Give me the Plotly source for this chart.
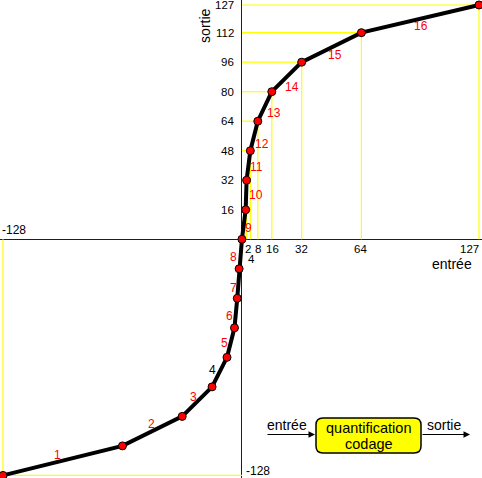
import plotly.graph_objects as go

# ---- data ----
neg_x = [-128, -64, -32, -16, -8, -4, -2.5, -1.5, 0]
neg_y = [-128, -112, -96, -80, -64, -48, -32, -16, 0]
pos_x = [2, 2.5, 4.5, 8.5, 16, 32, 64, 127]
pos_y = [16, 32, 48, 64, 80, 96, 112, 127]
seg_labels = [str(i) for i in range(1, 17)]
ytick_vals = [16, 32, 48, 64, 80, 96, 112, 127]
xtick_vals = [2, 8, 16, 32, 64, 127]
xtick_low = [4]

W, H = 482, 478
FONT = "Liberation Sans, Arial, sans-serif"
RED = "#ff0000"

curve_x = neg_x + pos_x
curve_y = neg_y + pos_y

# yellow drop lines
yx, yy = [], []
for x, y in zip(pos_x, pos_y):
    yx += [0, x, None, x, x, None]
    yy += [y, y, None, 0, y, None]
yx += [0, neg_x[0], None, neg_x[0], neg_x[0], None]
yy += [neg_y[0], neg_y[0], None, 0, neg_y[0], None]

fig = go.Figure()
fig.add_trace(go.Scatter(x=yx, y=yy, mode="lines",
                         line=dict(color="#ffff00", width=1.2),
                         hoverinfo="skip", showlegend=False))
fig.add_trace(go.Scatter(x=curve_x, y=curve_y, mode="lines+markers",
                         line=dict(color="black", width=4),
                         marker=dict(size=8, color=RED,
                                     line=dict(color="black", width=1)),
                         showlegend=False))

ann = []
# segment labels at segment midpoints with offsets
shifts = [(-5, 6), (-1, 7), (-4, 5), (-7, 2), (-6, 0), (-6, -3), (-5, -4), (-7, -3),
          (5, -3), (10, 0), (8, -2), (8, -8), (9, -7), (5, -10), (3, -8), (1, -7)]
label_colors = [RED, RED, RED, "black", RED, RED, RED, RED,
                RED, RED, RED, RED, RED, RED, RED, RED]
for i, lab in enumerate(seg_labels):
    mx = (curve_x[i] + curve_x[i + 1]) / 2
    my = (curve_y[i] + curve_y[i + 1]) / 2
    dx, dy = shifts[i]
    ann.append(dict(x=mx, y=my, text=lab, showarrow=False, xshift=dx, yshift=dy,
                    xanchor="center", yanchor="middle",
                    font=dict(family=FONT, size=12, color=label_colors[i])))

# y tick labels
for v in ytick_vals:
    ann.append(dict(x=0, y=v, text=str(v), showarrow=False, xanchor="right",
                    yanchor="middle", xshift=-6,
                    font=dict(family=FONT, size=11.5, color="black")))
# x tick labels
xsh = {2: 2.5, 8: 1.5, 16: 0.5, 32: 0, 64: -0.5}
for v in xtick_vals:
    if v == 127:
        ann.append(dict(x=v, y=0, text=str(v), showarrow=False, xanchor="right",
                        yanchor="top", xshift=2, yshift=-2,
                        font=dict(family=FONT, size=11.5, color="black")))
    else:
        ann.append(dict(x=v, y=0, text=str(v), showarrow=False, xanchor="center",
                        yanchor="top", xshift=xsh[v], yshift=-2,
                        font=dict(family=FONT, size=11.5, color="black")))
for v in xtick_low:
    ann.append(dict(x=v, y=0, text=str(v), showarrow=False, xanchor="center",
                    yanchor="top", xshift=2.5, yshift=-12,
                    font=dict(family=FONT, size=11.5, color="black")))
# -128 labels
ann.append(dict(x=-128, y=0, text="-128", showarrow=False, xanchor="left",
                yanchor="bottom", xshift=-3, yshift=0,
                font=dict(family=FONT, size=12, color="black")))
ann.append(dict(x=0, y=-128, text="-128", showarrow=False, xanchor="left",
                yanchor="middle", xshift=2, yshift=4,
                font=dict(family=FONT, size=12, color="black")))
# axis titles
ann.append(dict(x=127, y=0, text="entrée", showarrow=False, xanchor="right",
                yanchor="top", xshift=-5, yshift=-15,
                font=dict(family=FONT, size=14, color="black")))
ann.append(dict(x=0, y=127, text="sortie", showarrow=False, textangle=-90,
                xanchor="right", yanchor="top", xshift=-27, yshift=-2,
                font=dict(family=FONT, size=14, color="black")))

# block diagram (paper coords from pixel positions)
def P(px):
    return px / W

def Q(py):
    return 1 - py / H

x0, x1, y0, y1, r = 316, 421, 418, 453, 7
pts = [("M", x0 + r, y0), ("L", x1 - r, y0), ("Q", x1, y0, x1, y0 + r),
       ("L", x1, y1 - r), ("Q", x1, y1, x1 - r, y1), ("L", x0 + r, y1),
       ("Q", x0, y1, x0, y1 - r), ("L", x0, y0 + r), ("Q", x0, y0, x0 + r, y0)]
path = ""
for p in pts:
    cmd = p[0]
    coords = p[1:]
    s = []
    for k in range(0, len(coords), 2):
        s.append(f"{P(coords[k]):.5f},{Q(coords[k+1]):.5f}")
    path += cmd + " " + " ".join(s) + " "
path += "Z"

shapes = [dict(type="path", path=path, xref="paper", yref="paper",
               fillcolor="#ffff00", line=dict(color="black", width=1.5), layer="above")]

def ptext(px, py, txt, size):
    return dict(x=P(px), y=Q(py), xref="paper", yref="paper", text=txt,
                showarrow=False, xanchor="center", yanchor="middle",
                font=dict(family=FONT, size=size, color="black"))

ann.append(ptext(368.5, 428, "quantification", 14.5))
ann.append(ptext(368.5, 443.5, "codage", 14.5))
ann.append(ptext(286.5, 425, "entrée", 14))
ann.append(ptext(444, 425, "sortie", 14))
ann.append(dict(x=P(315), y=Q(434.5), xref="paper", yref="paper", text="",
                showarrow=True, ax=-49, ay=0, arrowhead=2, arrowsize=1.3,
                arrowwidth=1, arrowcolor="black"))
ann.append(dict(x=P(470), y=Q(434.5), xref="paper", yref="paper", text="",
                showarrow=True, ax=-49, ay=0, arrowhead=2, arrowsize=1.3,
                arrowwidth=1, arrowcolor="black"))

fig.update_layout(
    width=W, height=H, autosize=False,
    margin=dict(l=0, r=0, t=0, b=0),
    paper_bgcolor="white", plot_bgcolor="white",
    xaxis=dict(range=[-129.6, 128.6], showgrid=False, showticklabels=False,
               ticks="", zeroline=True, zerolinecolor="#0000ff", zerolinewidth=1,
               fixedrange=True),
    yaxis=dict(range=[-129.4, 129.7], showgrid=False, showticklabels=False,
               ticks="", zeroline=True, zerolinecolor="#0000ff", zerolinewidth=1,
               fixedrange=True),
    annotations=ann, shapes=shapes, showlegend=False,
)

fig.write_html("out.html", config={"displayModeBar": False})
